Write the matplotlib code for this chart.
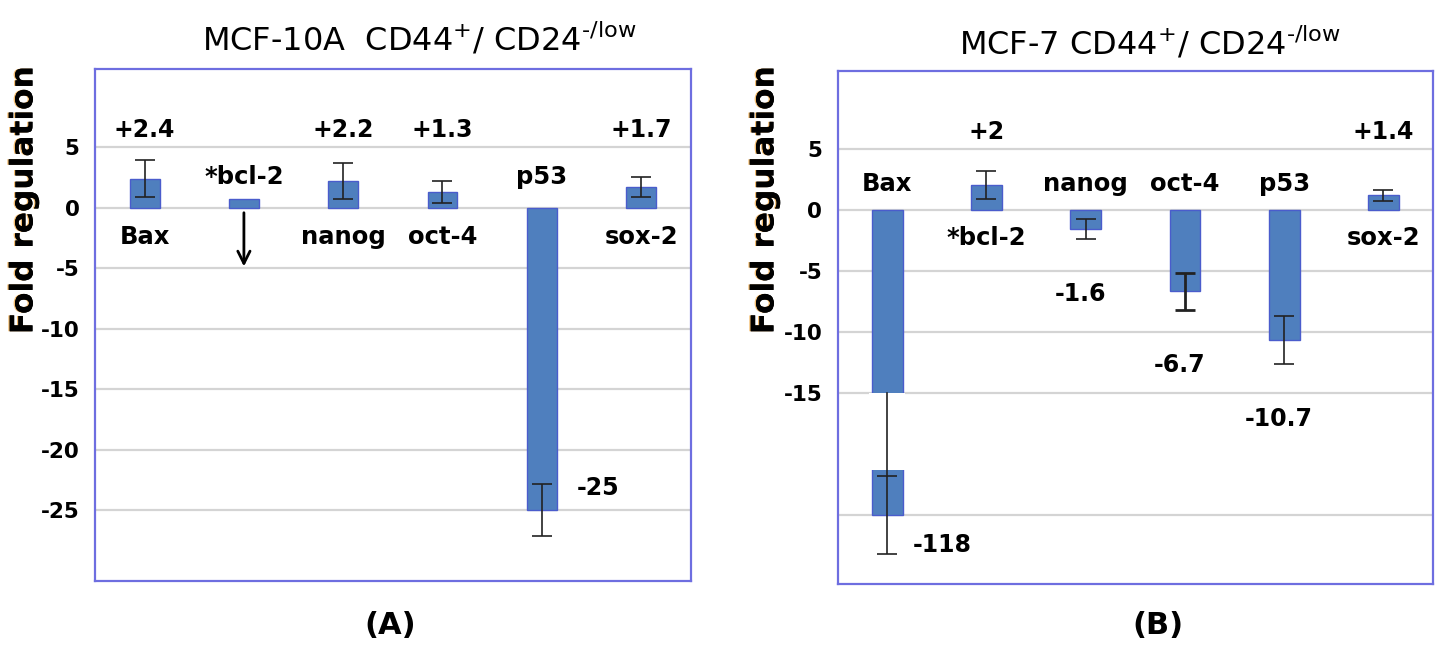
import numpy as np
import matplotlib
matplotlib.use("Agg")
import matplotlib.pyplot as plt
import matplotlib.patheffects as pe

plt.rcParams['font.family'] = ['DejaVu Sans']
plt.rcParams['mathtext.default'] = 'regular'

# data
genes = ['Bax', '*bcl-2', 'nanog', 'oct-4', 'p53', 'sox-2']

fold_a = [2.4, 0.7, 2.2, 1.3, -25, 1.7]
err_a = [1.5, 0, 1.5, 0.9, 2.15, 0.85]
text_a = ['+2.4', '', '+2.2', '+1.3', '-25', '+1.7']

fold_b = [-118, 2.05, -1.6, -6.7, -10.7, 1.2]
err_b = [3.2, 1.15, 0.8, 1.5, 1.95, 0.45]
text_b = ['-118', '+2', '-1.6', '-6.7', '-10.7', '+1.4']

# layout / style
name_pos_a = ['below', 'above', 'below', 'below', 'above', 'below']
name_pos_b = ['above', 'below', 'above', 'above', 'above', 'below']
bar_col = '#4f7fbe'
edge_col = '#4a5ccc'
frame_col = '#6e6ee0'
grid_col = '#d4d4d4'
floor_b = -25       # broken axis: bars beyond this are drawn to here
gap_b = (-15, -21.3)  # white gap for the broken bar

fig = plt.figure(figsize=(14.39, 6.47), dpi=100)
axA = fig.add_axes([0.0660, 0.1020, 0.4140, 0.7913])
axB = fig.add_axes([0.5821, 0.0974, 0.4137, 0.7929])


def style(ax, ticks, labels, ylim):
    ax.set_xlim(-0.5, 5.5)
    ax.set_ylim(*ylim)
    ax.set_yticks(ticks)
    ax.set_yticklabels(labels, fontsize=15.5, fontweight='bold')
    ax.set_xticks([])
    ax.tick_params(axis='y', length=0, pad=11)
    ax.grid(axis='y', color=grid_col, lw=1.6)
    ax.set_axisbelow(True)
    for s in ax.spines.values():
        s.set_color(frame_col)
        s.set_linewidth(1.6)


x = np.arange(len(genes))

# ---- panel A
style(axA, [5, 0, -5, -10, -15, -20, -25],
      ['5', '0', '-5', '-10', '-15', '-20', '-25'], (-30.87, 11.45))
axA.bar(x, fold_a, width=0.3, color=bar_col, edgecolor=edge_col, lw=1)
for i in range(len(genes)):
    if err_a[i] > 0:
        axA.errorbar(x[i], fold_a[i], yerr=err_a[i], fmt='none', ecolor='#222222',
                     elinewidth=1.2, capsize=7, capthick=1.2)
    if fold_a[i] > 0 and text_a[i]:
        axA.text(x[i], 6.4, text_a[i], ha='center', va='center', fontsize=17, fontweight='bold')
    y = 2.5 if name_pos_a[i] == 'above' else -2.4
    axA.text(x[i], y, genes[i], ha='center', va='center', fontsize=17.5, fontweight='bold')
axA.text(x[4] + 0.57, -23.2, text_a[4], ha='center', va='center', fontsize=17, fontweight='bold')
axA.annotate('', xy=(x[1], -5.1), xytext=(x[1], -0.2),
             arrowprops=dict(arrowstyle='->', lw=2, color='black', mutation_scale=22))

# ---- panel B
style(axB, [5, 0, -5, -10, -15, -25],
      ['5', '0', '-5', '-10', '-15', ''], (-30.68, 11.37))
fold_b_shown = np.maximum(fold_b, floor_b)
axB.bar(x, fold_b_shown, width=0.31, color=bar_col, edgecolor=edge_col, lw=1)
for i in range(len(genes)):
    if fold_b[i] < floor_b:
        axB.bar(x[i], gap_b[1] - gap_b[0], bottom=gap_b[0], width=0.36,
                color='white', edgecolor='none')
        axB.plot([x[i], x[i]], [gap_b[0], floor_b + err_b[i]], color='#222222', lw=1.2)
        axB.text(x[i] + 0.26, floor_b - 2.5, text_b[i], ha='left', va='center',
                 fontsize=17, fontweight='bold')
    axB.errorbar(x[i], fold_b_shown[i], yerr=err_b[i], fmt='none', ecolor='#222222',
                 elinewidth=1.2 if i != 3 else 2, capsize=7, capthick=1.2 if i != 3 else 2)
    if fold_b[i] > 0:
        axB.text(x[i], 6.4, text_b[i], ha='center', va='center', fontsize=17, fontweight='bold')
    elif fold_b[i] >= floor_b:
        axB.text(x[i] - 0.05, fold_b[i] - err_b[i] - 4.5, text_b[i], ha='center', va='center',
                 fontsize=17, fontweight='bold')
    y = 2.1 if name_pos_b[i] == 'above' else -2.3
    axB.text(x[i], y, genes[i], ha='center', va='center', fontsize=17.5, fontweight='bold')

# titles and labels
fig.text(0.2915, 0.9227, 'MCF-10A  CD44$^{+}$/ CD24$^{\u2010/low}$', ha='center', va='baseline', fontsize=23)
fig.text(0.7992, 0.915, 'MCF-7 CD44$^{+}$/ CD24$^{\u2010/low}$', ha='center', va='baseline', fontsize=23)

glow = [pe.withSimplePatchShadow(offset=(-1.0, 0), shadow_rgbFace='#f0a030', alpha=0.7), pe.Normal()]
fig.text(24 / 1439, 1 - 200 / 647, 'Fold regulation', rotation=90, ha='center', va='center',
         fontsize=22.5, fontweight='bold', path_effects=glow)
fig.text(765 / 1439, 1 - 200 / 647, 'Fold regulation', rotation=90, ha='center', va='center',
         fontsize=22.5, fontweight='bold', path_effects=glow)

fig.text(390 / 1439, 1 - 625 / 647, '(A)', ha='center', va='center', fontsize=22, fontweight='bold')
fig.text(1158 / 1439, 1 - 625 / 647, '(B)', ha='center', va='center', fontsize=22, fontweight='bold')

fig.savefig('out.png', dpi=100)
